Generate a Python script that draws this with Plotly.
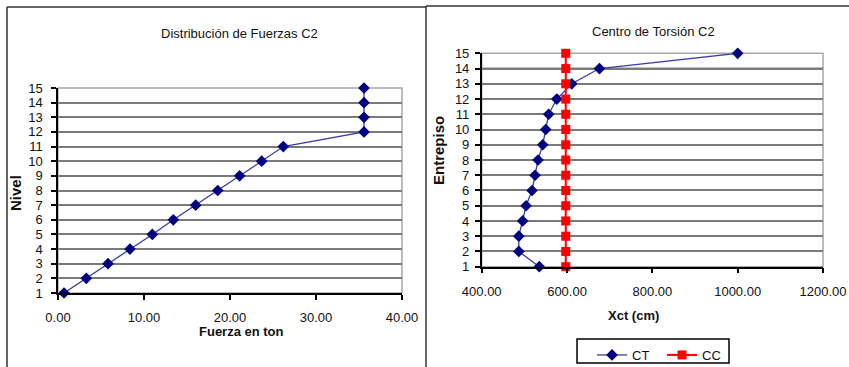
import plotly.graph_objects as go

# ---- data ----
nivel = [1, 2, 3, 4, 5, 6, 7, 8, 9, 10, 11, 12, 13, 14, 15]
fuerza = [0.70, 3.29, 5.81, 8.37, 10.97, 13.41, 16.01, 18.57, 21.12, 23.68, 26.20, 35.58, 35.58, 35.58, 35.58]

entrepiso = [1, 2, 3, 4, 5, 6, 7, 8, 9, 10, 11, 12, 13, 14, 15]
xct = [535, 487, 487, 496, 504, 518, 525, 532, 543, 550, 557, 576, 611, 676, 1000]
xcc = [597, 597, 597, 597, 597, 597, 597, 597, 597, 597, 597, 597, 597, 597, 597]

dark_grid_levels = [13, 14]

W, H = 849, 367
FONT = "Liberation Sans, Arial, sans-serif"
NAVY = "#000080"
LINE_BLUE = "#3c3ca8"
GRID = "#7a7a7a"

fig = go.Figure()

fig.add_trace(go.Scatter(
    x=fuerza, y=nivel, mode="lines+markers", xaxis="x", yaxis="y",
    line=dict(color=LINE_BLUE, width=1.3),
    marker=dict(symbol="diamond", size=9, color=NAVY),
    showlegend=False, cliponaxis=False, name="Fuerza"))

fig.add_trace(go.Scatter(
    x=xct, y=entrepiso, mode="lines+markers", xaxis="x2", yaxis="y2",
    line=dict(color=LINE_BLUE, width=1.3),
    marker=dict(symbol="diamond", size=9, color=NAVY),
    cliponaxis=False, name="CT"))

fig.add_trace(go.Scatter(
    x=xcc, y=entrepiso, mode="lines+markers", xaxis="x2", yaxis="y2",
    line=dict(color="#ff0000", width=2),
    marker=dict(symbol="square", size=9, color="#ff0000"),
    cliponaxis=False, name="CC"))

tickfont = dict(family=FONT, size=13, color="#111111")

common_x = dict(showgrid=False, zeroline=False, showline=True, linecolor="#000000",
                linewidth=1.5, ticks="outside", ticklen=5, tickcolor="#000000",
                tickwidth=1.5, tickfont=tickfont, tickformat=".2f", ticklabelstandoff=7,
                automargin=False)
common_y = dict(showgrid=True, gridcolor=GRID, gridwidth=2, zeroline=False,
                showline=True, linecolor="#000000", linewidth=1.5, ticks="outside",
                ticklen=5, tickcolor="#000000", tickwidth=1.5, tickfont=tickfont,
                dtick=1, range=[1, 15], automargin=False)

fig.update_layout(
    template="none",
    width=W, height=H,
    margin=dict(l=0, r=0, t=0, b=0, pad=0, autoexpand=False),
    paper_bgcolor="white", plot_bgcolor="white",
    font=dict(family=FONT, color="#111111"),
    xaxis=dict(domain=[58 / W, 402 / W], range=[0, 40], dtick=10, anchor="y", **common_x),
    yaxis=dict(domain=[(H - 293) / H, (H - 88) / H], anchor="x", ticklabelstandoff=6, **common_y),
    xaxis2=dict(domain=[481.7 / W, 823 / W], range=[400, 1200], dtick=200, anchor="y2", **common_x),
    yaxis2=dict(domain=[(H - 266.7) / H, (H - 53.3) / H], anchor="x2", ticklabelstandoff=3, **common_y),
    legend=dict(orientation="h", x=592 / W, y=(H - 340) / H, xanchor="left", yanchor="top",
                borderwidth=0, bgcolor="rgba(0,0,0,0)",
                font=dict(family=FONT, size=13, color="#111111"),
                itemwidth=30, entrywidth=25, tracegroupgap=0),
)

shapes = []
# plot-area borders (light gray)
for xr, yr in (("x domain", "y domain"), ("x2 domain", "y2 domain")):
    shapes.append(dict(type="rect", xref=xr, yref=yr, x0=0, x1=1, y0=0, y1=1,
                       line=dict(color="#a8a8a8", width=1.5), layer="below"))
# darker gridlines on the right chart
for lv in dark_grid_levels:
    shapes.append(dict(type="line", xref="x2 domain", yref="y2", x0=0, x1=1, y0=lv, y1=lv,
                       line=dict(color="#000000", width=1.5), layer="below"))
# legend frame
shapes.append(dict(type="rect", xref="paper", yref="paper", x0=577 / W, x1=729 / W,
                   y0=1 - 363 / H, y1=1 - 339 / H, line=dict(color="#000000", width=1.5),
                   fillcolor="rgba(0,0,0,0)"))
# outer chart frames
frame = dict(color="#333333", width=1.5)
shapes += [
    dict(type="line", xref="paper", yref="paper", x0=7 / W, x1=7 / W, y0=-0.05, y1=1 - 7 / H, line=frame),
    dict(type="line", xref="paper", yref="paper", x0=7 / W, x1=426 / W, y0=1 - 7 / H, y1=1 - 7 / H, line=frame),
    dict(type="line", xref="paper", yref="paper", x0=426 / W, x1=426 / W, y0=-0.05, y1=1 - 6 / H, line=frame),
    dict(type="line", xref="paper", yref="paper", x0=426 / W, x1=1.05, y0=1 - 6 / H, y1=1 - 6 / H, line=frame),
]
fig.update_layout(shapes=shapes)

ann = []
def add_text(txt, x, y, size, bold=False, angle=0):
    ann.append(dict(text=("<b>%s</b>" % txt) if bold else txt, x=x / W, y=1 - y / H,
                    xref="paper", yref="paper", showarrow=False, textangle=angle,
                    xanchor="center", yanchor="middle",
                    font=dict(family=FONT, size=size, color="#111111")))

add_text("Distribución de Fuerzas C2", 239, 33, 13)
add_text("Centro de Torsión C2", 653, 32, 13)
add_text("Nivel", 15, 193, 15, bold=True, angle=-90)
add_text("Entrepiso", 438, 151, 15, bold=True, angle=-90)
add_text("Fuerza en ton", 241, 331, 13, bold=True)
add_text("Xct (cm)", 633, 315, 13, bold=True)
fig.update_layout(annotations=ann)

fig.write_html("out.html")
